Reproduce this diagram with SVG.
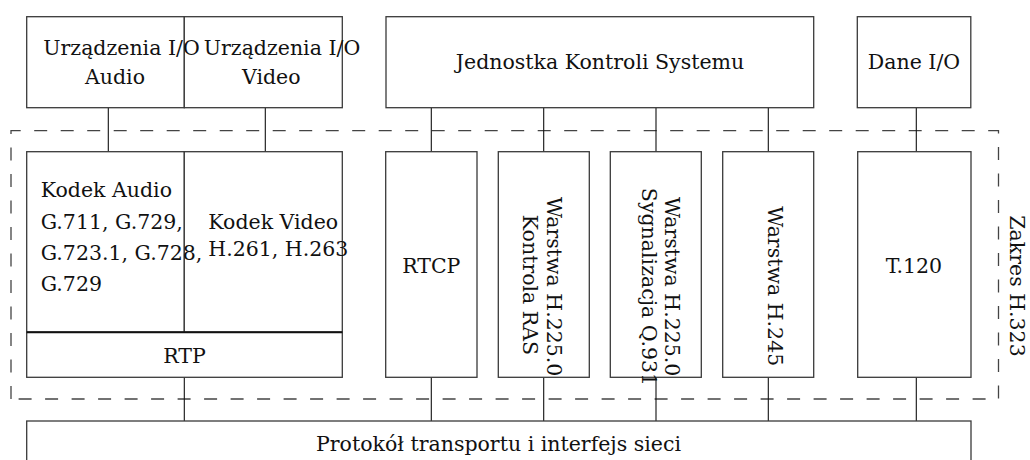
<svg xmlns="http://www.w3.org/2000/svg" width="1030" height="460" viewBox="0 0 1030 460">
<style>
.box{fill:#fff;stroke:#3a3a3a;stroke-width:1.3}
.con{stroke:#111;stroke-width:1.1;fill:none}
.scope{fill:none;stroke:#444;stroke-width:1.3;stroke-dasharray:13 13.5}
text{font-family:"DejaVu Serif","Liberation Serif",serif;font-size:20.5px;fill:#111}
.m{text-anchor:middle}
</style>
<rect width="1030" height="460" fill="#fff"/>
<path id="scope" class="scope" d="M11,399 V130.7 H998.5 V399 Z"/>
<g id="connectors">
<path class="con" d="M108.3,107.7V151.7 M265.3,107.7V151.7 M431.3,107.7V151.7 M543.7,107.7V151.7 M656,107.7V151.7 M768.3,107.7V151.7 M916.3,107.7V151.7"/>
<path class="con" d="M184.3,377.3V421 M431.3,377.3V421 M543.7,377.3V421 M656,377.3V421 M768.3,377.3V421 M916.3,377.3V421"/>
</g>
<g id="io-audio"><rect class="box" x="26.7" y="16.7" width="157.6" height="91"/></g>
<g id="io-video"><rect class="box" x="184.3" y="16.7" width="158" height="91"/></g>
<g id="jks"><rect class="box" x="386" y="16.7" width="427.7" height="91"/>
<text class="m" x="600" y="69">Jednostka Kontroli Systemu</text></g>
<g id="dane"><rect class="box" x="857.3" y="16.7" width="113.5" height="91"/>
<text class="m" x="914" y="69">Dane I/O</text></g>
<g id="io-text">
<text class="m" x="121.5" y="54.5">Urządzenia I/O</text>
<text class="m" x="115" y="84">Audio</text>
<text class="m" x="282" y="54.5">Urządzenia I/O</text>
<text class="m" x="271.3" y="84">Video</text>
</g>
<g id="kodek-audio"><rect class="box" x="26.7" y="151.7" width="157.6" height="180.6"/></g>
<g id="kodek-video"><rect class="box" x="184.3" y="151.7" width="158" height="180.6"/></g>
<g id="rtp"><rect class="box" x="26.7" y="332.3" width="315.6" height="45"/>
<line x1="26.7" y1="332.3" x2="342.3" y2="332.3" stroke="#111" stroke-width="2"/>
<text class="m" x="184.5" y="362.7">RTP</text></g>
<g id="kodek-text">
<text x="40.7" y="197">Kodek Audio</text>
<text x="40.7" y="228.5">G.711, G.729,</text>
<text x="40.7" y="259.5">G.723.1, G.728,</text>
<text x="40.7" y="290.5">G.729</text>
<text x="208.3" y="228.5">Kodek Video</text>
<text x="208.3" y="255.5">H.261, H.263</text>
</g>
<g id="rtcp"><rect class="box" x="385.7" y="151.7" width="91.3" height="225.6"/>
<text class="m" x="431.3" y="272.7">RTCP</text></g>
<g id="ras"><rect class="box" x="498.3" y="151.7" width="91" height="225.6"/>
<text class="m" transform="translate(547,286.7) rotate(90)">Warstwa H.225.0</text>
<text class="m" transform="translate(523.3,285) rotate(90)">Kontrola RAS</text></g>
<g id="q931"><rect class="box" x="610.3" y="151.7" width="91" height="225.6"/>
<text class="m" transform="translate(665,286.7) rotate(90)">Warstwa H.225.0</text>
<text class="m" transform="translate(641.7,287) rotate(90)">Sygnalizacja Q.931</text></g>
<g id="h245"><rect class="box" x="722.7" y="151.7" width="91" height="225.6"/>
<text class="m" transform="translate(768.3,286.3) rotate(90)">Warstwa H.245</text></g>
<g id="t120"><rect class="box" x="857.7" y="151.7" width="113.3" height="225.6"/>
<text class="m" x="914" y="272.7">T.120</text></g>
<g id="protokol"><rect class="box" x="26.7" y="421" width="944.3" height="50"/>
<text class="m" x="498.5" y="451">Protokół transportu i interfejs sieci</text></g>
<g id="zakres"><text class="m" transform="translate(1010,286) rotate(90)">Zakres H.323</text></g>
</svg>
